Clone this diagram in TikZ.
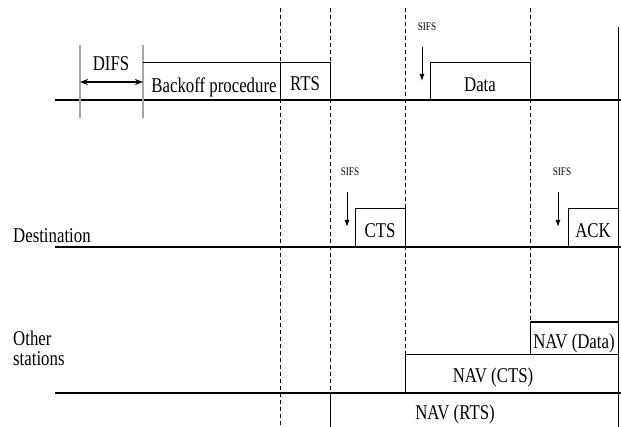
\documentclass[tikz,border=0pt]{standalone}
\usepackage{fontspec}
\setmainfont[FakeStretch=0.8]{Liberation Serif}
\usetikzlibrary{arrows.meta,positioning}

\tikzset{
  lbl/.style={inner sep=0pt,font=\fontsize{21}{20}\selectfont},
  ifslbl/.style={inner sep=0pt,font=\fontsize{11.5}{11.5}\selectfont},
  timeline/.style={line width=1.6pt},
  frame/.style={line width=1pt},
  slot/.style={dash pattern=on 4pt off 3pt,line width=0.9pt},
  ifsbar/.style={line width=1.6pt,gray!70},
  waitarrow/.style={-{Latex[length=7pt,width=5pt]},line width=1pt},
}

\begin{document}
\begin{tikzpicture}[x=1pt,y=-1pt]
\useasboundingbox (0,0) rectangle (621,427);

% time lines of the three stations
\draw[timeline] (55,100) -- (621,100);
\draw[timeline] (55,247) -- (621,247);
\draw[timeline] (55,393) -- (621,393);

% slot boundaries
\draw[slot] (280,8) -- (280,427);
\draw[slot] (330,8) -- (330,393);
\draw[slot] (405,8) -- (405,355);
\draw[slot] (530,8) -- (530,322);
\draw[frame] (618,27) -- (618,427);

% source: DIFS, backoff, RTS, data
\draw[ifsbar] (80,45) -- (80,118);
\draw[ifsbar] (143,45) -- (143,118);
\node[lbl] (DIFS) at (111,64) {DIFS};
\coordinate (DifsL) at (80,82);
\coordinate (DifsR) at (143,82);
\draw[{Stealth[length=8pt,width=6pt]}-{Stealth[length=8pt,width=6pt]},line width=1.3pt] (DifsL) -- (DifsR);
\draw[frame] (143,63) -- (330,63) -- (330,100);
\draw[frame] (280,63) -- (280,100);
\node[lbl] (Backoff) at (214,87) {Backoff procedure};
\node[lbl] (RTS) at (305,84) {RTS};
\node[ifslbl] (Sifs1) at (427,27) {SIFS};
\coordinate (S1a) at (422,47);
\coordinate (S1b) at (422,81);
\draw[waitarrow] (S1a) -- (S1b);
\draw[frame] (430,100) -- (430,63) -- (530,63) -- (530,100);
\node[lbl] (Data) at (480,85) {Data};

% destination: CTS, ACK
\node[lbl, anchor=west] (Dest) at (13,236) {Destination};
\node[ifslbl] (Sifs2) at (350,172) {SIFS};
\coordinate (S2a) at (347,192);
\coordinate (S2b) at (347,227);
\draw[waitarrow] (S2a) -- (S2b);
\draw[frame] (355,247) -- (355,209) -- (405,209) -- (405,247);
\node[lbl] (CTS) at (380,231) {CTS};
\node[ifslbl] (Sifs3) at (562,172) {SIFS};
\coordinate (S3a) at (558,192);
\coordinate (S3b) at (558,227);
\draw[waitarrow] (S3a) -- (S3b);
\draw[frame] (568,247) -- (568,209) -- (618,209);
\node[lbl] (ACK) at (593,231) {ACK};

% other stations: NAV
\node[lbl, anchor=north west, align=left] (Other) at (13,331) {Other\\ stations};
\draw[line width=1.4pt] (530,322) -- (618,322);
\draw[frame] (530,322) -- (530,355);
\node[lbl] (NavData) at (574,343) {NAV (Data)};
\draw[frame] (405,393) -- (405,355) -- (618,355);
\node[lbl] (NavCTS) at (493,377) {NAV (CTS)};
\draw[frame] (330,393) -- (330,427);
\node[lbl] (NavRTS) at (455,414) {NAV (RTS)};

\end{tikzpicture}
\end{document}
